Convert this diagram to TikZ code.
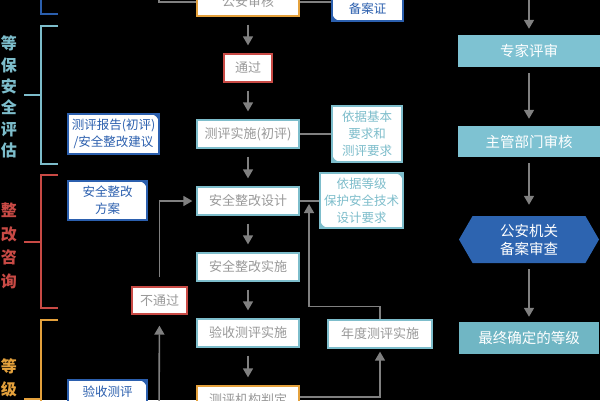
\documentclass[tikz,border=0pt]{standalone}
\usepackage{fontspec}
\setmainfont{Noto Sans CJK SC}
\usetikzlibrary{arrows.meta,shapes.symbols}
\definecolor{bluec}{HTML}{2B5FAE}
\definecolor{tealc}{HTML}{7DBDCB}
\definecolor{redc}{HTML}{C94A45}
\definecolor{orangec}{HTML}{E4A13C}
\definecolor{greytext}{HTML}{999999}
\definecolor{arrgrey}{HTML}{808080}
\definecolor{fillteal}{HTML}{7EC2D2}
\definecolor{filldark}{HTML}{70B6C4}
\definecolor{hexblue}{HTML}{2D64B0}
\begin{document}
\begin{tikzpicture}[x=1pt,y=-1pt,
  box/.style={draw=#1,line width=1.3pt,fill=white,text=greytext,minimum width=102pt,minimum height=28pt,inner sep=0pt,font=\fontsize{13}{16}\selectfont},
  doc/.style={draw=#1,line width=1.5pt,fill=white,text=#1,align=center,inner sep=0pt,font=\fontsize{12.5}{17}\selectfont},
  ne/.style={path picture={\fill[#1] (path picture bounding box.north east) -- ++(-9pt,0pt) arc[start angle=90,end angle=0,radius=9pt] -- cycle;}},
  sw/.style={path picture={\fill[#1] (path picture bounding box.south west) -- ++(9pt,0pt) arc[start angle=-90,end angle=-180,radius=9pt] -- cycle;}},
  nesw/.style={path picture={\fill[#1] (path picture bounding box.north east) -- ++(-9pt,0pt) arc[start angle=90,end angle=0,radius=9pt] -- cycle;
    \fill[#1] (path picture bounding box.south west) -- ++(9pt,0pt) arc[start angle=-90,end angle=-180,radius=9pt] -- cycle;}},
  rbox/.style={fill=#1,text=white,minimum width=142pt,minimum height=32pt,inner sep=0pt,font=\fontsize{14.5}{18}\selectfont},
  lab/.style={text=#1,align=center,inner sep=0pt,font=\fontsize{16}{21.3}\selectfont\bfseries},
  brace/.style={draw=#1,line width=1.5pt},
  arr/.style={draw=arrgrey,line width=1.6pt,-{Triangle[length=9pt,width=10pt]},shorten <=8pt,shorten >=8pt},
  ln/.style={draw=arrgrey,line width=1.3pt}]
  \useasboundingbox (0,0) rectangle (600,400);
  \clip (0,0) rectangle (600,400);
  \fill[black] (0,0) rectangle (600,400);

  % brackets on the left
  \draw[brace=bluec] (41,-10) |- (58,14);
  \draw[brace=tealc] (58,26) -- (41,26) -- (41,164) -- (58,164);
  \draw[brace=tealc] (24,95) -- (41,95);
  \draw[brace=redc] (58,175) -- (41,175) -- (41,308) -- (58,308);
  \draw[brace=redc] (24,242) -- (41,242);
  \draw[brace=orangec] (58,320) -- (41,320) -- (41,410);
  \draw[brace=orangec] (24,399) -- (41,399);
  \node[lab=tealc] (dbpg) at (9,97) {等\\保\\安\\全\\评\\估};
  \node[lab=redc,font=\fontsize{16}{23.5}\selectfont\bfseries] (zgzx) at (9,246) {整\\改\\咨\\询};
  \node[lab=orangec,font=\fontsize{16}{23}\selectfont\bfseries] (dj) at (9,378) {等\\级};

  % middle column
  \node[box=orangec] (gs) at (248,2) {公安审核};
  \node[box=redc,minimum width=48pt] (tg) at (248,68) {通过};
  \node[box=tealc] (cs) at (248,134) {测评实施(初评)};
  \node[box=tealc] (sj) at (248,201) {安全整改设计};
  \node[box=tealc] (ss) at (248,267) {安全整改实施};
  \node[box=tealc] (ys) at (248,333) {验收测评实施};
  \node[box=orangec] (pd) at (248,400) {测评机构判定};
  \node[box=tealc,minimum width=104pt] (nd) at (380,334) {年度测评实施};
  \node[box=redc,minimum width=55pt,minimum height=27pt] (btg) at (159.5,300.5) {不通过};

  % side documents
  \node[doc=bluec,sw=bluec,minimum width=71pt,minimum height=42pt] (bz) at (367.5,0) {\strut\\备案证};
  \node[doc=tealc,sw=tealc,minimum width=70pt,minimum height=56pt] (yj1) at (367,134) {依据基本\\要求和\\测评要求};
  \node[doc=tealc,nesw=tealc,minimum width=83pt,minimum height=55pt] (yj2) at (361.5,200.5) {依据等级\\保护安全技术\\设计要求};
  \node[doc=bluec,ne=bluec,minimum width=91pt,minimum height=40pt] (bg) at (113.5,134) {测评报告(初评)\\/安全整改建议};
  \node[doc=bluec,ne=bluec,minimum width=79pt,minimum height=39pt] (fa) at (107.5,200.5) {安全整改\\方案};
  \node[doc=bluec,ne=bluec,minimum width=79pt,minimum height=40pt] (yc) at (107.5,400) {验收测评\\\mbox{}};

  % right column
  \node[rbox=fillteal] (zj) at (529,51) {专家评审};
  \node[rbox=fillteal,minimum height=31pt] (zg) at (529,141.5) {主管部门审核};
  \node[signal,signal to=west and east,signal pointer angle=120,fill=hexblue,text=white,align=center,
    minimum width=140pt,minimum height=47pt,inner sep=0pt,font=\fontsize{14.5}{18}\selectfont] (ga) at (529,239.5) {公安机关\\备案审查};
  \node[rbox=filldark,minimum width=140pt] (zz) at (529,338) {最终确定的等级};

  % connectors
  \coordinate (top1) at (159,-10);
  \coordinate (top2) at (529,-10);
  \coordinate (bot) at (159,410);
  \coordinate (join) at (309,201);
  \foreach \a/\b in {gs/tg,tg/cs,cs/sj,sj/ss,ss/ys,ys/pd}{
    \draw[arr] (\a) -- (\b); % arrows down the middle
  }
  \draw[ln] (top1) |- (gs.west);
  \draw[ln] (gs.east) -- (gs.east -| bz.west);
  \draw[ln] (cs.east) -- (cs.east -| yj1.west);
  \draw[ln] (sj.east) -- (sj.east -| yj2.west);
  \draw[arr,shorten <=9pt,shorten >=4pt] (btg.north) |- (sj.west);
  \draw[arr,shorten <=0pt,shorten >=11pt] (bot) -- (btg.south);
  \draw[arr,shorten <=0pt,shorten >=3pt] ([yshift=3pt]pd.east) -| (nd.south);
  \draw[arr,shorten <=0pt,shorten >=3pt] (nd.north) -- ++(0,-13) -| (join);
  \draw[arr,shorten <=0pt,shorten >=6pt] (top2) -- (zj);
  \draw[arr,shorten <=6pt,shorten >=7pt] (zj) -- (zg);
  \draw[arr,shorten <=6pt,shorten >=11pt] (zg) -- (ga);
  \draw[arr,shorten <=6pt,shorten >=5pt] (ga) -- (zz);
\end{tikzpicture}
\end{document}
